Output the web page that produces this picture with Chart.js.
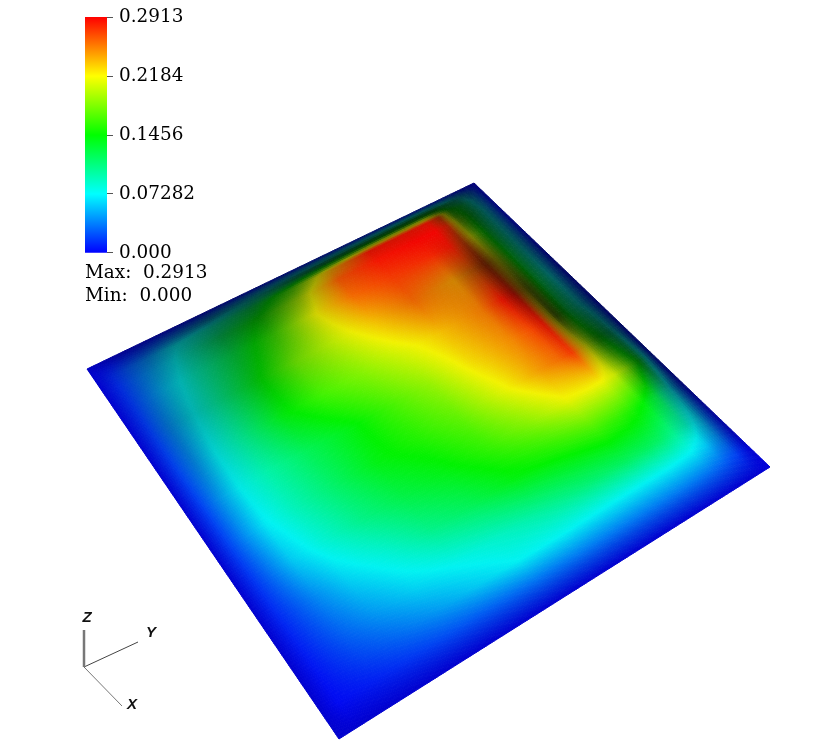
<!DOCTYPE html>
<html>
<head>
<meta charset="utf-8">
<title>Surface</title>
<script src="https://cdn.jsdelivr.net/npm/chart.js@4"></script>
<style>
  html, body { margin: 0; background: #fff; }
  #wrap { position: relative; width: 830px; height: 742px; overflow: hidden; }
  canvas { position: absolute; left: 0; top: 0; }
  .minmax { position: absolute; left: 85px; font: 18.4px "DejaVu Serif"; line-height: 20px; color: #000; white-space: pre; }
</style>
</head>
<body>
<div id="wrap">
  <canvas id="surface" width="830" height="742"></canvas>
  <canvas id="legend" width="220" height="270"></canvas>
  <div class="minmax" style="top:262px">Max:  0.2913</div>
  <div class="minmax" style="top:285px">Min:  0.000</div>
</div>
<script>
// colour bar
const tickValues = [0, 0.07282, 0.1456, 0.2184, 0.2913];
const tickLabels = ["0.000", "0.07282", "0.1456", "0.2184", "0.2913"];
const barColors = ["#0000ff", "#00ffff", "#00ff00", "#ffff00", "#ff0000"];

// plate corners on the page, then the axis triad
const cornerX = [87, 474, 770, 339];
const cornerY = [369, 183, 467, 739];
const triadX = [84, 84, 138, 122];
const triadY = [667, 630, 642, 706];
const triadNames = ["Z", "Y", "X"];

// where the values were read along each side of the plate (0 to 1)
const uGrid = [0, .04, .08, .13, .2, .3, .4, .5, .6, .7, .8, .85, .88, .91, .94, .97, 1];
const vGrid = [0, .02, .04, .07, .12, .2, .3, .4, .5, .6, .7, .8, .87, .93, 1];

const surfaceValues = [
  [0, 0, 0, 0, 0, 0, 0, 0, 0, 0, 0, 0, 0, 0, 0, 0, 0],
  [0, .006, .012, .02, .035, .05, .07, .09, .11, .13, .14, .14, .13, .11, .08, .04, 0],
  [0, .012, .025, .04, .07, .09, .12, .17, .24, .285, .285, .285, .27, .16, .12, .06, 0],
  [0, .014, .03, .05, .08, .115, .15, .2, .265, .285, .29, .29, .28, .19, .13, .07, 0],
  [0, .016, .035, .06, .088, .125, .165, .215, .26, .275, .28, .285, .27, .2, .13, .07, 0],
  [0, .018, .04, .067, .097, .14, .18, .205, .235, .26, .245, .26, .27, .21, .13, .07, 0],
  [0, .02, .042, .072, .1, .14, .165, .185, .21, .235, .255, .285, .285, .21, .125, .07, 0],
  [0, .02, .045, .073, .095, .12, .14, .165, .19, .225, .25, .27, .285, .2, .12, .07, 0],
  [0, .02, .043, .07, .09, .115, .14, .155, .175, .21, .245, .26, .275, .22, .16, .1, 0],
  [0, .016, .035, .06, .08, .105, .125, .14, .16, .185, .215, .218, .218, .21, .19, .14, 0],
  [0, .012, .025, .042, .063, .082, .105, .12, .14, .15, .163, .16, .155, .145, .125, .08, 0],
  [0, .008, .018, .03, .045, .063, .075, .086, .098, .11, .118, .118, .115, .105, .09, .06, 0],
  [0, .005, .012, .02, .03, .045, .06, .073, .074, .073, .073, .073, .072, .07, .06, .04, 0],
  [0, .003, .006, .01, .016, .024, .03, .036, .038, .038, .038, .038, .037, .035, .03, .02, 0],
  [0, 0, 0, 0, 0, 0, 0, 0, 0, 0, 0, 0, 0, 0, 0, 0, 0],
];

// lighting on the colours, same layout as surfaceValues
const surfaceShade = [
  [.8, .7, .6, .55, .5, .45, .45, .45, .45, .45, .45, .45, .45, .45, .45, .45, .5],
  [.85, .8, .7, .6, .5, .35, .3, .25, .2, .2, .2, .2, .2, .25, .25, .35, .5],
  [.85, .85, .75, .65, .55, .45, .4, .5, .7, .85, .85, .85, .5, .3, .3, .35, .5],
  [.85, .9, .8, .7, .62, .5, .5, .65, .9, 1, 1, 1, .7, .35, .3, .35, .5],
  [.85, .9, .82, .75, .7, .65, .7, .85, 1, 1, 1, .9, .55, .5, .35, .35, .5],
  [.85, .92, .78, .72, .75, .75, .85, .95, 1, .95, .85, .6, .35, .35, .4, .35, .45],
  [.85, .97, .85, .85, .9, .95, 1, 1, 1, 1, .95, .9, .5, .2, .4, .4, .4],
  [.85, 1, .95, .95, 1, 1, 1, 1, 1, 1, 1, 1, .85, .2, .35, .35, .4],
  [.85, 1, 1, 1, 1, 1, 1, 1, 1, 1, 1, 1, 1, .6, .35, .3, .4],
  [.85, 1, 1, 1, 1, 1, 1, 1, 1, 1, 1, 1, 1, .95, .7, .4, .4],
  [.85, 1, 1, 1, 1, 1, 1, 1, 1, 1, 1, 1, 1, 1, .85, .55, .45],
  [.85, 1, 1, 1, 1, 1, 1, 1, 1, 1, 1, 1, 1, 1, .85, .7, .6],
  [.85, 1, 1, 1, 1, 1, 1, 1, 1, 1, 1, 1, 1, 1, 1, .85, .7],
  [.85, 1, 1, 1, 1, 1, 1, 1, 1, 1, 1, 1, 1, 1, 1, 1, .85],
  [.85, .85, .85, .85, .85, .85, .85, .85, .85, .85, .85, .85, .85, .85, .85, .85, .9],
];

const maxValue = tickValues[tickValues.length - 1];

function valueColor(value, shade) {
  const t = Math.min(Math.max(value / maxValue, 0), 1) * 4;
  const i = Math.min(Math.floor(t), 3);
  const f = t - i;
  const stops = [[0, 0, 255], [0, 255, 255], [0, 255, 0], [255, 255, 0], [255, 0, 0]];
  const c = [0, 1, 2].map(k => Math.round((stops[i][k] + (stops[i + 1][k] - stops[i][k]) * f) * shade * 0.95));
  return `rgb(${c[0]},${c[1]},${c[2]})`;
}

// draws the plate as small quads, corners go through the chart's scales
const surfacePlugin = {
  id: "surfaceMesh",
  beforeDatasetsDraw(chart) {
    const { ctx, scales } = chart;
    const px = cornerX.map(x => scales.x.getPixelForValue(x));
    const py = cornerY.map(y => scales.y.getPixelForValue(y));
    const project = (u, v) => [
      (1 - u) * (1 - v) * px[0] + u * (1 - v) * px[1] + u * v * px[2] + (1 - u) * v * px[3],
      (1 - u) * (1 - v) * py[0] + u * (1 - v) * py[1] + u * v * py[2] + (1 - u) * v * py[3],
    ];
    ctx.save();
    ctx.lineWidth = 1;
    for (let j = 0; j < vGrid.length - 1; j++) {
      for (let i = 0; i < uGrid.length - 1; i++) {
        const du = uGrid[i + 1] - uGrid[i];
        const dv = vGrid[j + 1] - vGrid[j];
        const nu = Math.max(Math.ceil(du * 430 / 2), 1);
        const nv = Math.max(Math.ceil(dv * 430 / 2), 1);
        for (let a = 0; a < nv; a++) {
          for (let b = 0; b < nu; b++) {
            const s = (b + 0.5) / nu;
            const t = (a + 0.5) / nv;
            const mix = m => (1 - s) * (1 - t) * m[j][i] + s * (1 - t) * m[j][i + 1] + s * t * m[j + 1][i + 1] + (1 - s) * t * m[j + 1][i];
            const u0 = uGrid[i] + du * b / nu, u1 = uGrid[i] + du * (b + 1) / nu;
            const v0 = vGrid[j] + dv * a / nv, v1 = vGrid[j] + dv * (a + 1) / nv;
            const color = valueColor(mix(surfaceValues), mix(surfaceShade));
            ctx.fillStyle = color;
            ctx.strokeStyle = color;
            ctx.beginPath();
            ctx.moveTo(...project(u0, v0));
            ctx.lineTo(...project(u1, v0));
            ctx.lineTo(...project(u1, v1));
            ctx.lineTo(...project(u0, v1));
            ctx.closePath();
            ctx.fill();
            ctx.stroke();
          }
        }
      }
    }
    ctx.restore();
  },
  afterDatasetsDraw(chart) {
    const { ctx, scales } = chart;
    const offsets = [[3, -12], [13, -9], [10, -1]];
    ctx.save();
    ctx.font = "italic bold 15px 'Liberation Sans'";
    ctx.fillStyle = "#111";
    ctx.textAlign = "center";
    ctx.textBaseline = "middle";
    triadNames.forEach((name, k) => {
      ctx.fillText(name,
        scales.x.getPixelForValue(triadX[k + 1]) + offsets[k][0],
        scales.y.getPixelForValue(triadY[k + 1]) + offsets[k][1]);
    });
    ctx.restore();
  },
};

function triadLine(k, color, width) {
  return {
    data: [{ x: triadX[0], y: triadY[0] }, { x: triadX[k], y: triadY[k] }],
    showLine: true,
    borderColor: color,
    borderWidth: width,
    pointRadius: 0,
  };
}

new Chart(document.getElementById("surface"), {
  type: "scatter",
  data: {
    datasets: [
      { data: cornerX.map((x, k) => ({ x: x, y: cornerY[k] })), pointRadius: 0 },
      triadLine(1, "#777", 2.5),
      triadLine(2, "#444", 1),
      triadLine(3, "#777", 1),
    ],
  },
  options: {
    responsive: false,
    animation: false,
    plugins: { legend: { display: false }, tooltip: { enabled: false } },
    scales: {
      x: { type: "linear", min: 0, max: 830, display: false },
      y: { type: "linear", min: 0, max: 742, reverse: true, display: false },
    },
  },
  plugins: [surfacePlugin],
});

new Chart(document.getElementById("legend"), {
  type: "bar",
  data: {
    labels: ["value"],
    datasets: [{
      data: [[0, maxValue]],
      barPercentage: 1,
      categoryPercentage: 1,
      backgroundColor(context) {
        const area = context.chart.chartArea;
        if (!area) return barColors[0];
        const g = context.chart.ctx.createLinearGradient(0, area.bottom, 0, area.top);
        barColors.forEach((c, i) => g.addColorStop(tickValues[i] / maxValue, c));
        return g;
      },
    }],
  },
  options: {
    responsive: false,
    animation: false,
    layout: { padding: { left: 85, top: 16, bottom: 16, right: 0 } },
    plugins: { legend: { display: false }, tooltip: { enabled: false } },
    scales: {
      x: { display: false },
      y: {
        position: "right",
        min: 0,
        max: maxValue,
        border: { display: false },
        grid: { drawOnChartArea: false, tickLength: 6, color: "#555", tickWidth: 1 },
        afterBuildTicks(axis) { axis.ticks = tickValues.map(v => ({ value: v })); },
        afterFit(axis) { axis.width = 113; },
        ticks: {
          autoSkip: false,
          padding: 6,
          color: "#000",
          font: { family: "DejaVu Serif", size: 18.4 },
          callback(value) { return tickLabels[tickValues.indexOf(value)]; },
        },
      },
    },
  },
});
</script>
</body>
</html>
